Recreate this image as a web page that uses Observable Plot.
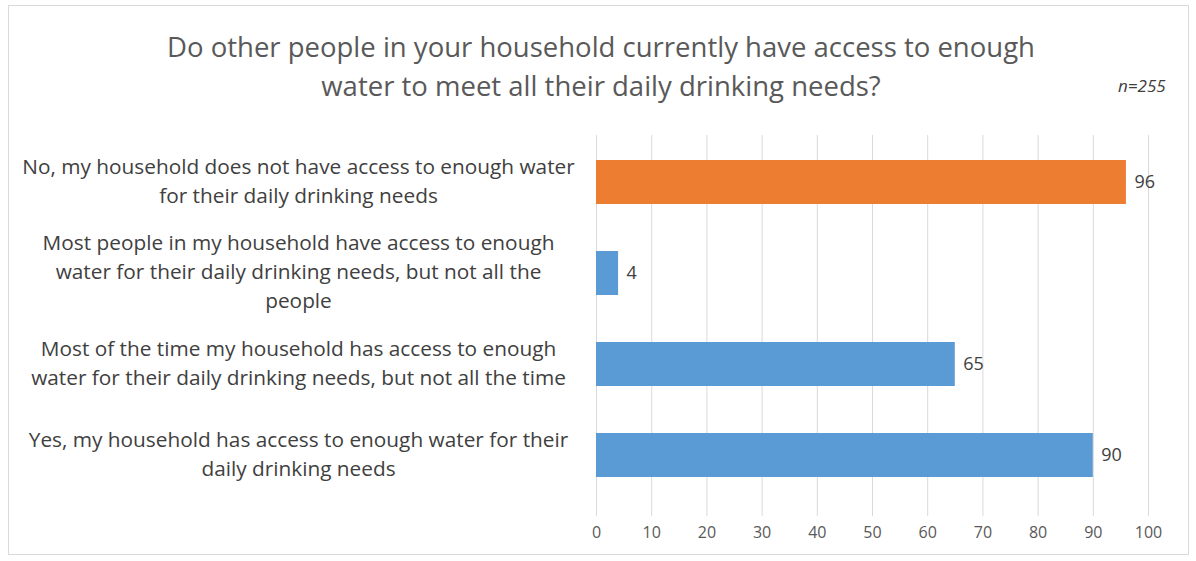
<!DOCTYPE html>
<html>
<head>
<meta charset="utf-8">
<script src="https://cdn.jsdelivr.net/npm/d3@7"></script>
<script src="https://cdn.jsdelivr.net/npm/@observablehq/plot@0.6"></script>
<style>
  html, body { margin: 0; padding: 0; background: #fff; }
  #wrap { position: relative; width: 1196px; height: 561px; overflow: hidden; font-family: "Open Sans", sans-serif; }
  #frame { position: absolute; left: 8px; top: 5px; width: 1181px; height: 550px; border: 1px solid #d9d9d9; box-sizing: border-box; }
  #title { position: absolute; left: 0; top: 27px; width: 1202px; text-align: center; font-size: 27.5px; line-height: 39px; color: #595959; }
  #n { position: absolute; left: 1118px; top: 74px; font-size: 17px; font-style: italic; color: #404040; }
  #chart { position: absolute; left: 0; top: 110px; }
</style>
</head>
<body>
<div id="wrap">
  <div id="frame"></div>
  <div id="title">Do other people in your household currently have access to enough<br>water to meet all their daily drinking needs?</div>
  <div id="n">n=255</div>
  <div id="chart"></div>
</div>
<script>
const categories = [
  "No, my household does not have access to enough water\nfor their daily drinking needs",
  "Most people in my household have access to enough\nwater for their daily drinking needs, but not all the\npeople",
  "Most of the time my household has access to enough\nwater for their daily drinking needs, but not all the time",
  "Yes, my household has access to enough water for their\ndaily drinking needs"
];
const values = [96, 4, 65, 90];
const barColors = ["#ED7D31", "#5B9BD5", "#5B9BD5", "#5B9BD5"];
const xTicks = [0, 10, 20, 30, 40, 50, 60, 70, 80, 90, 100];

const data = categories.map((c, i) => ({category: c, value: values[i], color: barColors[i]}));

const chart = Plot.plot({
  width: 1196,
  height: 451,
  marginLeft: 596,
  marginRight: 48,
  marginTop: 25,
  marginBottom: 45,
  style: {fontFamily: "Open Sans, sans-serif", background: "transparent"},
  x: {domain: [0, 100], ticks: xTicks, tickSize: 0, tickPadding: 10, label: null, tickFormat: d => String(d)},
  y: {domain: categories, axis: null, paddingInner: 0.52, paddingOuter: 0.26, insetBottom: 15},
  marks: [
    Plot.ruleX(xTicks, {stroke: "#d9d9d9", strokeWidth: 1}),
    Plot.axisX({ticks: xTicks, tickSize: 0, tickPadding: 10, fontSize: 16, fill: "#595959", label: null}),
    Plot.barX(data, {x: "value", y: "category", fill: "color"}),
    Plot.text(data, {x: "value", y: "category", text: d => String(d.value), textAnchor: "start", dx: 8, fontSize: 18, fill: "#404040"}),
    Plot.text(data, {y: "category", text: "category", frameAnchor: "left", dx: -298, dy: -3.5, textAnchor: "middle", fontSize: 20.8, lineHeight: 1.38, fill: "#404040"})
  ]
});
document.getElementById("chart").appendChild(chart);
</script>
</body>
</html>
